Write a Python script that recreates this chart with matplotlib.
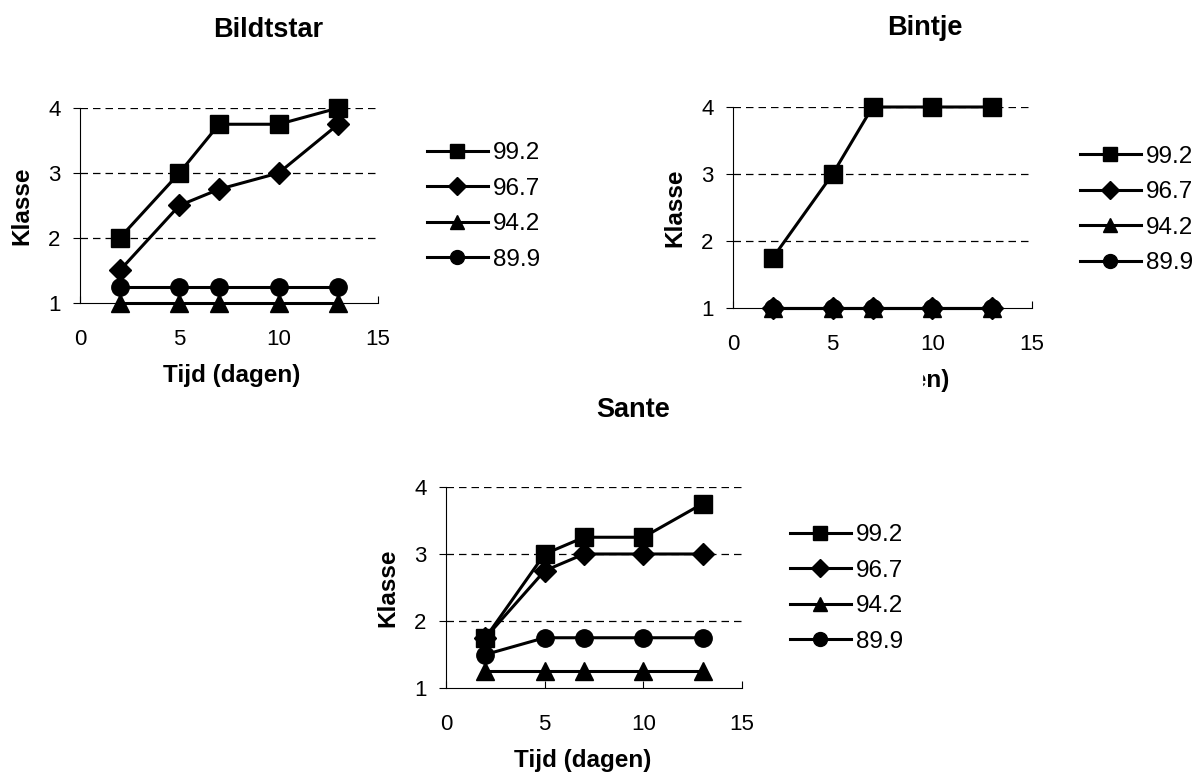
import matplotlib.pyplot as plt
from matplotlib.patches import Rectangle

plt.rcParams['font.family'] = ['Liberation Sans', 'DejaVu Sans']

dagen = [2, 5, 7, 10, 13]
labels = ['99.2', '96.7', '94.2', '89.9']
markers = ['s', 'D', '^', 'o']
msizes = [13, 11, 13, 12.5]

bildtstar = [
    [2, 3, 3.75, 3.75, 4],
    [1.5, 2.5, 2.75, 3, 3.75],
    [1, 1, 1, 1, 1],
    [1.25, 1.25, 1.25, 1.25, 1.25],
]
bintje = [
    [1.75, 3, 4, 4, 4],
    [1, 1, 1, 1, 1],
    [1, 1, 1, 1, 1],
    [1, 1, 1, 1, 1],
]
sante = [
    [1.75, 3, 3.25, 3.25, 3.75],
    [1.75, 2.75, 3, 3, 3],
    [1.25, 1.25, 1.25, 1.25, 1.25],
    [1.5, 1.75, 1.75, 1.75, 1.75],
]

W, H = 1196, 776
fig = plt.figure(figsize=(W / 100, H / 100), dpi=100)


def px(x, y):
    return x / W, 1 - y / H


def panel(rect, data, title, title_xy, leg_xy, ylab_x, xlab_xy):
    ax = fig.add_axes(rect)
    for vals, lab, m, ms in zip(data, labels, markers, msizes):
        ax.plot(dagen, vals, color='black', lw=2.2, marker=m, ms=ms,
                label=lab, clip_on=False, zorder=3)
    ax.set_xlim(0, 15)
    ax.set_ylim(1, 4)
    ax.set_xticks([0, 5, 10, 15])
    ax.set_yticks([1, 2, 3, 4])
    for y in [2, 3, 4]:
        ax.axhline(y, color='black', lw=0.9, ls=(0, (6, 4)), zorder=1)
    ax.spines['top'].set_visible(False)
    ax.spines['right'].set_visible(False)
    ax.tick_params(axis='x', direction='in', length=5, labelsize=16, pad=19)
    ax.tick_params(axis='y', direction='out', length=5, labelsize=16, pad=9)
    fig.text(*px(*title_xy), title, fontsize=19.5, fontweight='bold',
             ha='center', va='center')
    fig.text(ylab_x / W, rect[1] + rect[3] / 2, 'Klasse', fontsize=17.5,
             fontweight='bold', rotation=90, ha='center', va='center')
    fig.text(*px(*xlab_xy), 'Tijd (dagen)', fontsize=17.5,
             fontweight='bold', ha='center', va='center')
    fig.legend(*ax.get_legend_handles_labels(), loc='center left',
               bbox_to_anchor=px(*leg_xy), frameon=False, fontsize=17.5,
               handlelength=2.5, handletextpad=0.2, labelspacing=0.55,
               markerscale=0.8, borderpad=0, borderaxespad=0)
    return ax


panel([80 / W, 1 - 303 / H, 298 / W, 195 / H], bildtstar, 'Bildtstar',
      (268, 30), (427, 206.5), 22, (232, 375))
panel([733 / W, 1 - 308 / H, 299 / W, 201 / H], bintje, 'Bintje',
      (925, 28), (1080, 210), 675, (881, 380))
panel([446 / W, 1 - 688 / H, 296 / W, 201 / H], sante, 'Sante',
      (633, 410), (790, 588.5), 388, (583, 760))

# part of the Bintje x label is hidden in the original
fig.patches.append(Rectangle(px(795, 398), 127 / W, 38 / H,
                             transform=fig.transFigure, color='white', zorder=10))

fig.savefig('out.png', dpi=100)
